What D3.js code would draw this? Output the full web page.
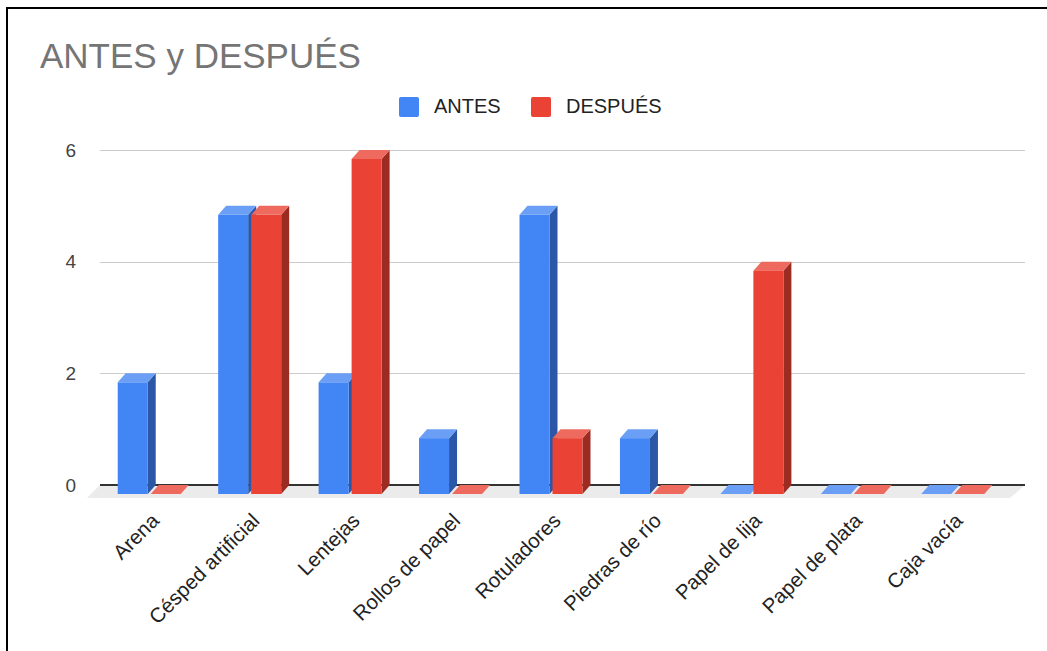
<!DOCTYPE html>
<html lang="es">
<head>
  <meta charset="UTF-8">
  <title>ANTES y DESPUÉS</title>
  <script src="https://d3js.org/d3.v7.min.js"></script>
  <style>
    body {
      margin: 0;
      background: #fff;
      font-family: "Liberation Sans", Arial, sans-serif;
    }
    .gridline {
      stroke: #cccccc;
      stroke-width: 1;
      shape-rendering: crispEdges;
    }
  </style>
</head>
<body>
  <script>
    // Chart data
    const categories = ["Arena", "Césped artificial", "Lentejas", "Rollos de papel", "Rotuladores",
                        "Piedras de río", "Papel de lija", "Papel de plata", "Caja vacía"];
    const seriesNames = ["ANTES", "DESPUÉS"];
    const antes = [2, 5, 2, 1, 5, 1, 0, 0, 0];
    const despues = [0, 5, 6, 0, 1, 0, 4, 0, 0];
    const yTicks = [0, 2, 4, 6];

    // Colours per series: front, side, top
    const colors = {
      "ANTES":   { front: "#4285f4", side: "#2b57a6", top: "#6b9ff6" },
      "DESPUÉS": { front: "#ea4335", side: "#9c2b22", top: "#ee6a5f" }
    };

    const W = 1047, H = 651;
    const plot = { left: 100, right: 1025, top: 150, bottom: 485 };
    const depth = { dx: 8, dy: 9 };   // 3D offset from front face to back plane

    const svg = d3.select("body")
      .append("svg")
      .attr("width", W)
      .attr("height", H);

    // Frame
    svg.append("rect")
      .attr("x", 7).attr("y", 8)
      .attr("width", W + 20).attr("height", H + 20)
      .attr("fill", "none")
      .attr("stroke", "#000")
      .attr("stroke-width", 2);

    // Title
    svg.append("text")
      .attr("x", 40)
      .attr("y", 68)
      .style("font-size", "35px")
      .style("fill", "#757575")
      .text("ANTES y DESPUÉS");

    // Scales (y is the back plane, where gridlines live)
    const y = d3.scaleLinear().domain([0, 6]).range([plot.bottom, plot.top]);
    const x0 = d3.scaleBand()
      .domain(categories)
      .range([99, 1003])
      .paddingInner(0.3728)
      .paddingOuter(0.1864);
    const x1 = d3.scaleBand()
      .domain(seriesNames)
      .range([0, x0.bandwidth()])
      .paddingInner(0.0909);

    // Gridlines
    svg.append("g")
      .selectAll("line")
      .data(yTicks.filter(d => d !== 0))
      .enter()
      .append("line")
      .attr("class", "gridline")
      .attr("x1", plot.left)
      .attr("x2", plot.right)
      .attr("y1", d => y(d) + 0.5)
      .attr("y2", d => y(d) + 0.5);

    // Y tick labels
    svg.append("g")
      .selectAll("text")
      .data(yTicks)
      .enter()
      .append("text")
      .attr("x", 76)
      .attr("y", d => y(d))
      .attr("dy", "0.35em")
      .attr("text-anchor", "end")
      .style("font-size", "19px")
      .style("fill", "#444")
      .text(d => d);

    // Floor
    const fl = 13;
    svg.append("path")
      .attr("d", `M${plot.left},${y(0)} L${plot.right},${y(0)} L${plot.right - fl - 2},${y(0) + fl} L${plot.left - fl},${y(0) + fl} Z`)
      .attr("fill", "#ebebeb");

    // Zero baseline
    svg.append("line")
      .attr("x1", plot.left)
      .attr("x2", plot.right)
      .attr("y1", y(0))
      .attr("y2", y(0))
      .attr("stroke", "#333")
      .attr("stroke-width", 2);

    // Bars data
    const bars = [];
    categories.forEach((c, i) => {
      bars.push({ cat: c, series: "ANTES", value: antes[i] });
      bars.push({ cat: c, series: "DESPUÉS", value: despues[i] });
    });

    const barG = svg.append("g");
    bars.forEach(d => {
      const col = colors[d.series];
      const bx = x0(d.cat) + x1(d.series);
      const bw = x1.bandwidth();
      const yb = y(0) + depth.dy;          // front bottom
      const yt = y(d.value) + depth.dy;    // front top
      const g = barG.append("g");
      if (d.value === 0) {
        g.append("path")
          .attr("d", `M${bx},${yb} L${bx + bw},${yb} L${bx + bw + depth.dx},${yb - depth.dy} L${bx + depth.dx},${yb - depth.dy} Z`)
          .attr("fill", col.top);
        return;
      }
      // side
      g.append("path")
        .attr("d", `M${bx + bw},${yb} L${bx + bw},${yt} L${bx + bw + depth.dx},${yt - depth.dy} L${bx + bw + depth.dx},${yb - depth.dy} Z`)
        .attr("fill", col.side);
      // top
      g.append("path")
        .attr("d", `M${bx},${yt} L${bx + bw},${yt} L${bx + bw + depth.dx},${yt - depth.dy} L${bx + depth.dx},${yt - depth.dy} Z`)
        .attr("fill", col.top);
      // front
      g.append("rect")
        .attr("x", bx)
        .attr("y", yt)
        .attr("width", bw)
        .attr("height", yb - yt)
        .attr("fill", col.front);
    });

    // X labels
    svg.append("g")
      .selectAll("text")
      .data(categories)
      .enter()
      .append("text")
      .attr("transform", d => `translate(${x0(d) + x0.bandwidth() / 2 + 11},${522}) rotate(-45)`)
      .attr("text-anchor", "end")
      .style("font-size", "20.5px")
      .style("fill", "#222")
      .text(d => d);

    // Legend
    const legend = svg.append("g");
    const legendItems = [
      { name: "ANTES", x: 399 },
      { name: "DESPUÉS", x: 531 }
    ];
    legendItems.forEach(it => {
      legend.append("rect")
        .attr("x", it.x)
        .attr("y", 97)
        .attr("width", 20)
        .attr("height", 20)
        .attr("rx", 2)
        .attr("fill", colors[it.name].front);
      legend.append("text")
        .attr("x", it.x + 35)
        .attr("y", 113)
        .style("font-size", "20px")
        .style("fill", "#222")
        .text(it.name);
    });
  </script>
</body>
</html>
